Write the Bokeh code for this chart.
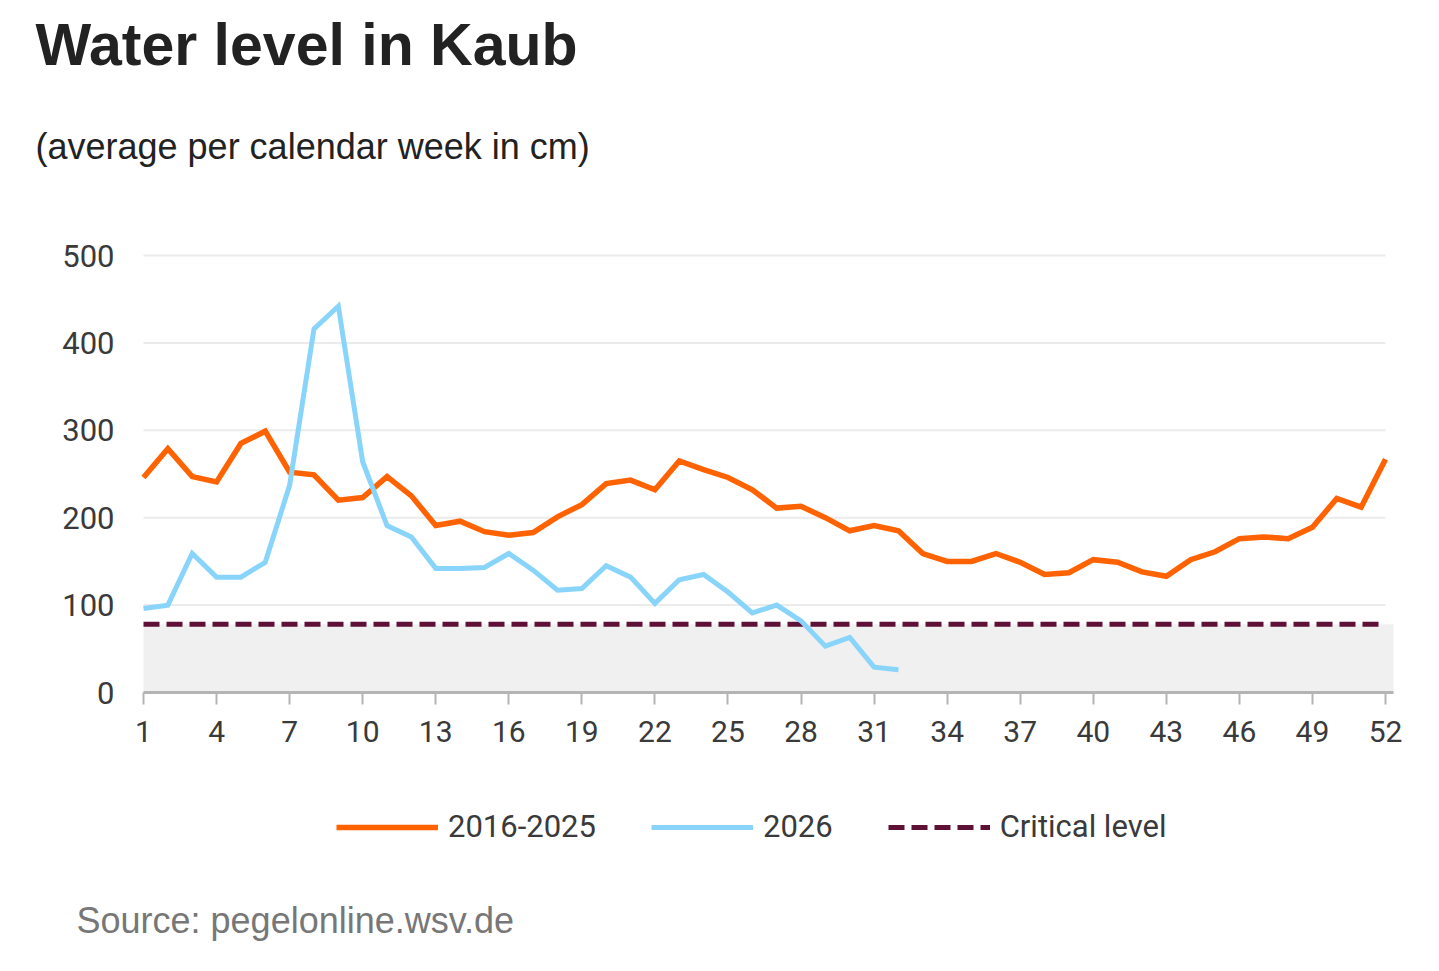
from bokeh.plotting import figure
from bokeh.models import (Range1d, Legend, LegendItem, BoxAnnotation,
                          FixedTicker, Label)
from bokeh.embed import file_html
from bokeh.resources import INLINE

# ---------------- data ----------------
weeks = list(range(1, 53))
avg_2016_2025 = [246, 279, 247, 241, 285, 299, 252, 249, 220, 223,
                 247, 225, 191, 196, 184, 180, 183, 201, 215, 239,
                 243, 232, 265, 255, 246, 232, 211, 213, 200, 185,
                 191, 185, 159, 150, 150, 159, 149, 135, 137, 152,
                 149, 138, 133, 152, 161, 176, 178, 176, 189, 222,
                 212, 267]
weeks_2026 = list(range(1, 33))
level_2026 = [96, 100, 159, 132, 132, 149, 237, 416, 442, 264,
              191, 178, 142, 142, 143, 159, 140, 117, 119, 145,
              132, 102, 129, 135, 115, 91, 100, 82, 53, 63,
              29, 26]
critical_level = 78
x_ticks = list(range(1, 53, 3))
y_ticks = [0, 100, 200, 300, 400, 500]

title_text = "Water level in Kaub"
subtitle_text = "(average per calendar week in cm)"
source_text = "Source: pegelonline.wsv.de"
series_names = ["2016-2025", "2026", "Critical level"]

# ---------------- layout constants (canvas pixels) ----------------
ORANGE = "#FF6200"
BLUE = "#89D4FA"
MAROON = "#5E1037"
TICK_FONT = "Roboto"
W, H = 1423, 955
PX_W1, PX_W52 = 143, 1385      # x pixel of week 1 / week 52
PX_Y0, PX_Y500 = 692, 255      # y pixel of 0 / 500
X_END = 52.33                  # right end of axis / band

px_per_week = (PX_W52 - PX_W1) / (weeks[-1] - weeks[0])
units_per_px = (y_ticks[-1] - y_ticks[0]) / (PX_Y0 - PX_Y500)
x_lo = weeks[0] - PX_W1 / px_per_week
x_hi = weeks[0] + (W - PX_W1) / px_per_week
y_lo = y_ticks[0] - (H - PX_Y0) * units_per_px
y_hi = y_ticks[-1] + PX_Y500 * units_per_px

p = figure(width=W, height=H, output_backend="svg", toolbar_location=None,
           x_range=Range1d(x_lo, x_hi), y_range=Range1d(y_lo, y_hi),
           min_border=0, min_border_left=0, min_border_right=0,
           min_border_top=0, min_border_bottom=0)
p.outline_line_color = None
p.title.text = ""
p.title.visible = False
p.xgrid.visible = False
p.ygrid.visible = False

# critical zone band
p.add_layout(BoxAnnotation(left=weeks[0], right=X_END, bottom=0,
                           top=critical_level, fill_color="#f0f0f0",
                           fill_alpha=1, line_alpha=0, level="underlay"))

# horizontal gridlines (from the y ticks)
grid_y = y_ticks[1:]
p.segment(x0=[weeks[0]] * len(grid_y), x1=[weeks[-1]] * len(grid_y),
          y0=grid_y, y1=grid_y, line_color="#ebebeb", line_width=2,
          level="underlay")

# axes, fixed at y=0 and x=1
xa = p.xaxis[0]
xa.fixed_location = 0
xa.bounds = (weeks[0], X_END)
xa.ticker = FixedTicker(ticks=x_ticks)
xa.axis_line_color = "#b4b4b4"
xa.axis_line_width = 3
xa.major_tick_line_color = "#b4b4b4"
xa.major_tick_line_width = 2
xa.major_tick_out = 12
xa.major_tick_in = 0
xa.minor_tick_line_color = None
xa.major_label_text_font = TICK_FONT
xa.major_label_text_font_size = "30px"
xa.major_label_text_color = "#3a3a3a"
xa.major_label_standoff = 16

ya = p.yaxis[0]
ya.fixed_location = weeks[0]
ya.bounds = (y_ticks[0], y_ticks[-1])
ya.ticker = FixedTicker(ticks=y_ticks)
ya.axis_line_color = None
ya.major_tick_line_color = None
ya.minor_tick_line_color = None
ya.major_label_text_font = TICK_FONT
ya.major_label_text_font_size = "31px"
ya.major_label_text_color = "#3a3a3a"
ya.major_label_standoff = 23

# series
r_crit = p.line(weeks, [critical_level] * len(weeks), line_color=MAROON,
                line_width=5, line_dash="16 7")
r_avg = p.line(weeks, avg_2016_2025, line_color=ORANGE, line_width=5.5,
               line_join="miter")
r_2026 = p.line(weeks_2026, level_2026, line_color=BLUE, line_width=5,
                line_join="miter")

legend = Legend(items=[LegendItem(label=series_names[0], renderers=[r_avg]),
                       LegendItem(label=series_names[1], renderers=[r_2026]),
                       LegendItem(label=series_names[2], renderers=[r_crit])],
                location=(336, H - 845), orientation="horizontal",
                glyph_width=102, glyph_height=30, label_height=30,
                label_standoff=10, spacing=55, padding=0, margin=0,
                border_line_alpha=0, background_fill_alpha=0,
                label_text_font=TICK_FONT, label_text_font_size="31px",
                label_text_color="#3a3a3a")
p.add_layout(legend, "center")

# titles and source (screen units: x from left, y up from bottom)
p.add_layout(Label(x=35, y=H - 44, x_units="screen", y_units="screen",
                   text=title_text, text_font="Liberation Sans",
                   text_font_style="bold", text_font_size="59px",
                   text_color="#222222", text_baseline="alphabetic"))
p.add_layout(Label(x=35, y=H - 146, x_units="screen", y_units="screen",
                   text=subtitle_text, text_font="Liberation Sans",
                   text_font_size="36px", text_color="#222222",
                   text_baseline="alphabetic"))
p.add_layout(Label(x=76, y=H - 920, x_units="screen", y_units="screen",
                   text=source_text, text_font="Liberation Sans",
                   text_font_size="36px", text_color="#777777",
                   text_baseline="alphabetic"))

open("out.html", "w").write(file_html(p, INLINE))
